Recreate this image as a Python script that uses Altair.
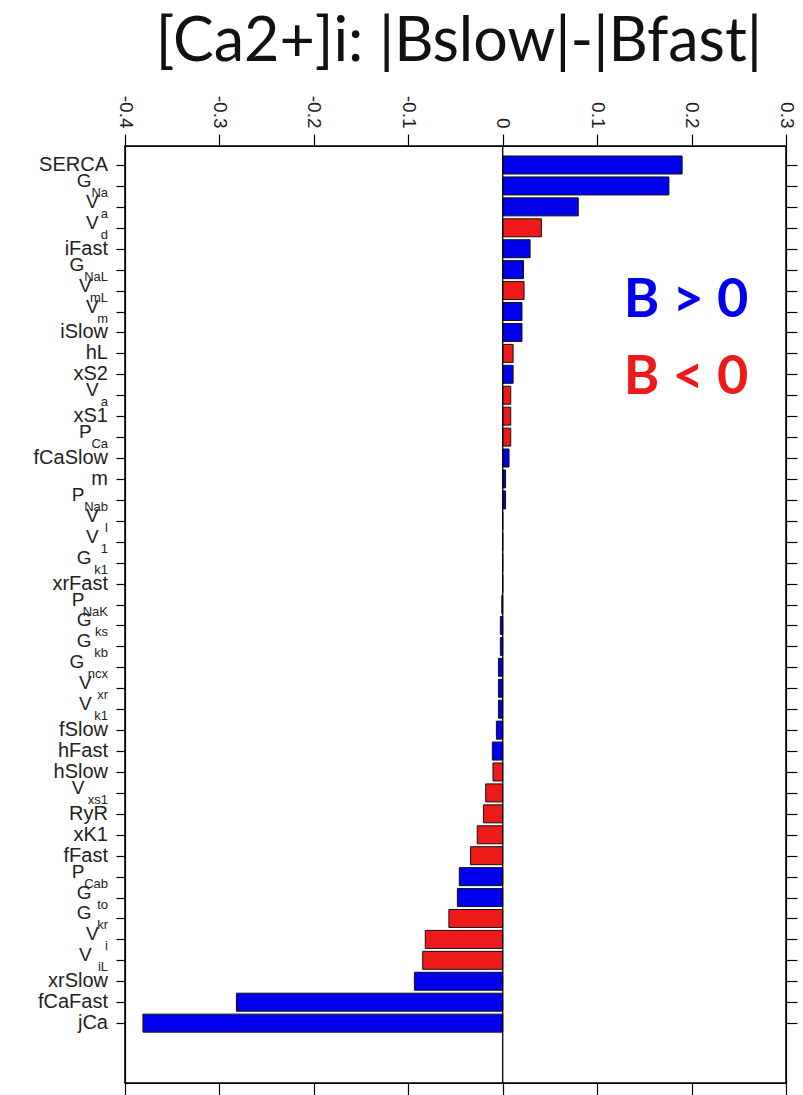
import altair as alt
import pandas as pd

# Parameter names (main symbol + subscript), top to bottom
label_main = [
    "SERCA", "G", "V", "V", "iFast", "G", "V", "V", "iSlow", "hL",
    "xS2", "V", "xS1", "P", "fCaSlow", "m", "P", "V", "V", "G",
    "xrFast", "P", "G", "G", "G", "V", "V", "fSlow", "hFast", "hSlow",
    "V", "RyR", "xK1", "fFast", "P", "G", "G", "V", "V", "xrSlow",
    "fCaFast", "jCa",
]
label_sub = [
    "", "Na", "a", "d", "", "NaL", "mL", "m", "", "",
    "", "a", "", "Ca", "", "", "Nab", "l", "1", "k1",
    "", "NaK", "ks", "kb", "ncx", "xr", "k1", "", "", "",
    "xs1", "", "", "", "Cab", "to", "kr", "i", "iL", "",
    "", "",
]
# |Bslow| - |Bfast|
diff_values = [
    0.190, 0.176, 0.080, 0.041, 0.029, 0.022, 0.0226, 0.0204, 0.0204, 0.011,
    0.011, 0.0085, 0.0085, 0.0085, 0.0067, 0.003, 0.003, 0.0, 0.0, 0.0,
    0.0, -0.001, -0.0025, -0.0025, -0.0045, -0.0045, -0.0045, -0.0067, -0.011, -0.0103,
    -0.018, -0.0204, -0.027, -0.034, -0.046, -0.048, -0.057, -0.082, -0.0847, -0.0935,
    -0.282, -0.381,
]
# sign of B
b_sign = [
    "B > 0", "B > 0", "B > 0", "B < 0", "B > 0", "B > 0", "B < 0", "B > 0", "B > 0", "B < 0",
    "B > 0", "B < 0", "B < 0", "B < 0", "B > 0", "B > 0", "B > 0", "B > 0", "B > 0", "B > 0",
    "B > 0", "B > 0", "B > 0", "B > 0", "B > 0", "B > 0", "B > 0", "B > 0", "B > 0", "B < 0",
    "B < 0", "B < 0", "B < 0", "B < 0", "B > 0", "B > 0", "B < 0", "B < 0", "B < 0", "B > 0",
    "B > 0", "B > 0",
]
x_ticks = [-0.4, -0.3, -0.2, -0.1, 0.0, 0.1, 0.2, 0.3]
title_text = "[Ca2+]i: |Bslow|-|Bfast|"

BLUE = "#0000ee"
RED = "#ee1a1a"
W, H = 661, 937
PX_PER_UNIT = W / 0.7
LABEL_FONT = "Liberation Sans"

n = len(diff_values)
rows = list(range(1, n + 1))
df = pd.DataFrame({
    "row": rows,
    "main": label_main,
    "sub": label_sub,
    "B": diff_values,
    "sign": b_sign,
})

x_scale = alt.Scale(domain=[-0.4, 0.3], nice=False, zero=False)
y_scale = alt.Scale(domain=[0.092, 44.86], reverse=True, nice=False, zero=False)

tick_label_expr = "datum.value == 0 ? '0' : replace(format(datum.value, '.1f'), '\u2212', '-')"

bars = alt.Chart(df).transform_calculate(
    y0="datum.row - 0.43", y1="datum.row + 0.43", base="0"
).mark_rect(stroke="#111", strokeWidth=1).encode(
    x=alt.X("B:Q", scale=x_scale, axis=alt.Axis(
        orient="top", values=x_ticks, title=None, tickSize=12, labelPadding=6,
        labelAngle=90, labelAlign="right", labelBaseline="middle",
        labelFont=LABEL_FONT, labelFontSize=19, labelExpr=tick_label_expr,
        labelOverlap=False, labelBound=False, labelFlush=False, grid=False)),
    x2="base:Q",
    y=alt.Y("y0:Q", scale=y_scale, axis=alt.Axis(
        orient="left", values=rows, labels=False, title=None, tickSize=9, grid=False)),
    y2="y1:Q",
    color=alt.Color("sign:N", scale=alt.Scale(domain=["B > 0", "B < 0"], range=[BLUE, RED]),
                    legend=None),
)

# invisible layer carrying the bottom and right axes
frame_axes = alt.Chart(df).mark_point(opacity=0).encode(
    x=alt.X("B:Q", scale=x_scale, axis=alt.Axis(
        orient="bottom", values=x_ticks, labels=False, title=None, tickSize=12, grid=False)),
    y=alt.Y("row:Q", scale=y_scale, axis=alt.Axis(
        orient="right", values=rows, labels=False, title=None, tickSize=11, grid=False)),
)

zero_line = alt.Chart(pd.DataFrame({"z": [0.0]})).mark_rule(color="black", strokeWidth=1.3).encode(
    x=alt.X("z:Q", scale=x_scale, axis=None)
)

plain_labels = alt.Chart(df).transform_filter("datum.sub == ''").mark_text(
    align="right", baseline="middle", font=LABEL_FONT, fontSize=20, color="#222"
).encode(
    x=alt.value(-17),
    y=alt.Y("row:Q", scale=y_scale, axis=None),
    text="main:N",
)

symbol_labels = alt.Chart(df).transform_filter("datum.sub != ''").transform_calculate(
    lx=f"-0.4 + (-19 - length(datum.sub) * 7.2) / {PX_PER_UNIT}"
).mark_text(
    align="right", baseline="middle", dy=-5, font=LABEL_FONT, fontSize=19, color="#222"
).encode(
    x=alt.X("lx:Q", scale=x_scale, axis=None),
    y=alt.Y("row:Q", scale=y_scale, axis=None),
    text="main:N",
)

sub_labels = alt.Chart(df).transform_filter("datum.sub != ''").mark_text(
    align="right", baseline="middle", dy=7, font=LABEL_FONT, fontSize=13, color="#222"
).encode(
    x=alt.value(-17),
    y=alt.Y("row:Q", scale=y_scale, axis=None),
    text="sub:N",
)

legend_df = pd.DataFrame({"txt": ["B > 0", "B < 0"]})
key_pos = alt.Chart(legend_df).transform_filter("datum.txt == 'B > 0'").mark_text(
    font="Lato", fontWeight="bold", fontSize=54, color=BLUE, align="center", baseline="middle"
).encode(x=alt.value(561), y=alt.value(155), text="txt:N")
key_neg = alt.Chart(legend_df).transform_filter("datum.txt == 'B < 0'").mark_text(
    font="Lato", fontWeight="bold", fontSize=54, color=RED, align="center", baseline="middle"
).encode(x=alt.value(561), y=alt.value(232), text="txt:N")

title = alt.Chart(pd.DataFrame({"t": [title_text]})).mark_text(
    font="Lato", fontSize=61, color="#111", align="center", baseline="middle"
).encode(x=alt.value(334), y=alt.value(-103), text="t:N")

chart = alt.layer(
    bars, frame_axes, zero_line, plain_labels, symbol_labels, sub_labels, key_pos, key_neg, title
).resolve_axis(
    x="independent", y="independent"
).properties(
    width=W, height=H,
    autosize=alt.AutoSizeParams(type="none"),
    padding={"left": 125, "top": 146, "right": 17, "bottom": 12},
    background="white",
).configure_view(
    stroke="black", strokeWidth=1.5
).configure_axis(
    domainColor="black", tickColor="black", domainWidth=1.2, tickWidth=1.2, labelColor="#222"
)

chart.save("out.html", embed_options={"renderer": "svg", "actions": False})
